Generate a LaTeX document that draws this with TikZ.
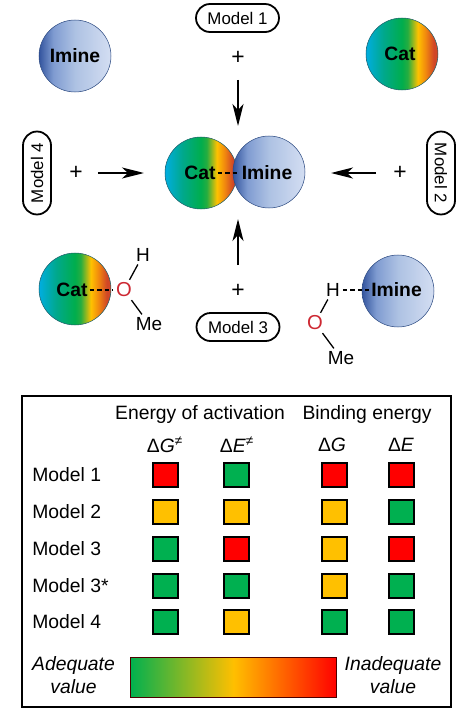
\documentclass[tikz,border=0pt]{standalone}
\usepackage{fontspec}
\setmainfont{Liberation Sans}
\usetikzlibrary{arrows.meta,shapes.misc}

\definecolor{cellgreen}{RGB}{0,176,80}
\definecolor{cellyellow}{RGB}{255,192,0}
\definecolor{cellred}{RGB}{255,0,0}
\definecolor{catedge}{RGB}{30,95,105}
\definecolor{imineedge}{RGB}{45,75,130}
\definecolor{oxygen}{RGB}{205,40,50}

\pgfdeclarehorizontalshading{catshade}{100bp}{
  rgb(0bp)=(0,.68,.88); rgb(25bp)=(0,.68,.88); rgb(37bp)=(0,.66,.55);
  rgb(50bp)=(0,.68,.30); rgb(54bp)=(.15,.68,.25); rgb(61bp)=(1,.76,0);
  rgb(66bp)=(.95,.55,.05); rgb(72bp)=(.82,.28,.15); rgb(100bp)=(.82,.28,.15)}
\pgfdeclarehorizontalshading{imineshade}{100bp}{
  rgb(0bp)=(.20,.33,.62); rgb(25bp)=(.20,.33,.62); rgb(35bp)=(.50,.61,.82);
  rgb(50bp)=(.68,.76,.89); rgb(75bp)=(.83,.87,.95); rgb(100bp)=(.83,.87,.95)}
\pgfdeclarehorizontalshading{scaleshade}{100bp}{
  rgb(0bp)=(0,.69,.31); rgb(25bp)=(0,.69,.31); rgb(50bp)=(1,.75,0);
  rgb(75bp)=(1,0,0); rgb(100bp)=(1,0,0)}

\begin{document}
\begin{tikzpicture}[
  x=0.02cm, y=-0.02cm,
  >={Stealth[length=0.44cm,width=0.22cm,inset=0.12cm]},
  catball/.style={circle, minimum size=1.44cm, inner sep=0pt, draw=catedge, line width=0.3pt, shade, shading=catshade},
  imineball/.style={circle, minimum size=1.44cm, inner sep=0pt, draw=imineedge, line width=0.3pt, shade, shading=imineshade},
  balllab/.style={font=\fontsize{11}{13}\selectfont\bfseries, inner sep=1pt},
  pill/.style={draw, rounded rectangle, line width=0.036cm, minimum width=1.66cm, minimum height=0.56cm, inner sep=0pt, font=\fontsize{9.6}{12}\selectfont},
  plus/.style={font=\fontsize{13}{15}\selectfont, inner sep=0pt},
  atom/.style={font=\fontsize{10.8}{13}\selectfont, inner sep=1.5pt},
  oatom/.style={atom, text=oxygen, font=\fontsize{11.5}{13}\selectfont},
  tbl/.style={font=\fontsize{11}{13}\selectfont, inner sep=0pt},
  cell/.style={draw, line width=0.04cm, minimum width=0.5cm, minimum height=0.48cm, inner sep=0pt},
  rarrow/.style={->, line width=0.036cm},
  hbond/.style={line width=0.026cm, dash pattern=on 0.09cm off 0.06cm},
  bond/.style={line width=0.026cm}
]
\useasboundingbox (0,0) rectangle (469,720);

% Free reactants
\node[imineball] (imineA) at (75,56) {};
\node[balllab] (imineAlab) at (75,56) {Imine};
\node[catball] (catA) at (402,54) {};
\node[balllab] (catAlab) at (400,54) {Cat};

% Complex in the middle
\node[catball] (catC) at (201,173) {};
\node[imineball] (imineC) at (269,172) {};
\node[balllab] (catClab) at (200,173) {Cat};
\node[balllab] (imineClab) at (267,173) {Imine};
\draw[hbond] (catClab) -- (imineClab);

% Model labels
\node[pill] (mA) at (237.5,18) {Model 1};
\node[pill, rotate=-90] (mB) at (441,173) {Model 2};
\node[pill] (mC) at (238,327) {Model 3};
\node[pill, rotate=90] (mD) at (37,173) {Model 4};

% Plus signs and arrows
\node[plus] (plusA) at (238,58) {+};
\node[plus] (plusB) at (400,173) {+};
\node[plus] (plusC) at (238,291) {+};
\node[plus] (plusD) at (76,173) {+};
\coordinate (tipA) at (238,126);
\coordinate (tipB) at (331,173);
\coordinate (tipC) at (238,219);
\coordinate (tipD) at (144,173);
\draw[rarrow, shorten <=0.44cm] (plusA.center) -- (tipA);
\draw[rarrow, shorten <=0.48cm] (plusB.center) -- (tipB);
\draw[rarrow, shorten <=0.52cm] (plusC.center) -- (tipC);
\draw[rarrow, shorten <=0.44cm] (plusD.center) -- (tipD);

% Cat with methanol
\node[catball] (catB) at (75,289) {};
\node[balllab] (catBlab) at (72,290) {Cat};
\node[oatom] (oA) at (124,290) {O};
\node[atom] (hA) at (143,255) {H};
\node[atom] (meA) at (149,324) {Me};
\draw[hbond] (catBlab) -- (oA);
\draw[bond] (oA) -- (hA);
\draw[bond] (oA) -- (meA);

% Imine with methanol
\node[imineball] (imineB) at (398,291) {};
\node[balllab] (imineBlab) at (396.5,290) {Imine};
\node[atom] (hB) at (333,290) {H};
\node[oatom] (oB) at (315,323) {O};
\node[atom] (meB) at (341,358) {Me};
\draw[hbond] (hB) -- (imineBlab);
\draw[bond] (oB) -- (hB);
\draw[bond] (oB) -- (meB);

% Table
\node[draw, line width=0.036cm, minimum width=8.58cm, minimum height=6.22cm, inner sep=0pt] (frame) at (236.5,551.5) {};
\node[tbl] (headA) at (200,414) {Energy of activation};
\node[tbl] (headB) at (367,414) {Binding energy};
\foreach \x/\lab/\nm in {165/{Δ\textit{G}\textsuperscript{\textit{≠}}}/a, 237/{Δ\textit{E}\textsuperscript{\textit{≠}}}/b, 332/{Δ\textit{G}}/c, 401/{Δ\textit{E}}/d}{
  \node[tbl] (sym\nm) at (\x,445) {\lab};
}
\foreach \y/\lab/\nm/\ca/\cb/\cc/\cd in {
  475/{Model 1}/a/cellred/cellgreen/cellred/cellred,
  512/{Model 2}/b/cellyellow/cellyellow/cellyellow/cellgreen,
  549/{Model 3}/c/cellgreen/cellred/cellyellow/cellred,
  586/{Model 3*}/d/cellgreen/cellgreen/cellyellow/cellgreen,
  622/{Model 4}/e/cellgreen/cellyellow/cellgreen/cellgreen}{
  \node[tbl, anchor=west] (row\nm) at (32,\y) {\lab};
  \node[cell, fill=\ca] (cell\nm a) at (165.5,\y) {};
  \node[cell, fill=\cb] (cell\nm b) at (236.5,\y) {};
  \node[cell, fill=\cc] (cell\nm c) at (334,\y) {};
  \node[cell, fill=\cd] (cell\nm d) at (401,\y) {};
}

% Colour scale
\node[draw=black!70!red, line width=0.02cm, minimum width=4.14cm, minimum height=0.8cm, inner sep=0pt, shade, shading=scaleshade] (scale) at (233.5,677) {};
\node[tbl, align=center, font=\fontsize{11}{13}\selectfont\itshape] (adq) at (73.5,675.5) {Adequate\\value};
\node[tbl, align=center, font=\fontsize{11}{13}\selectfont\itshape] (inadq) at (393,675.5) {Inadequate\\value};
\end{tikzpicture}
\end{document}
